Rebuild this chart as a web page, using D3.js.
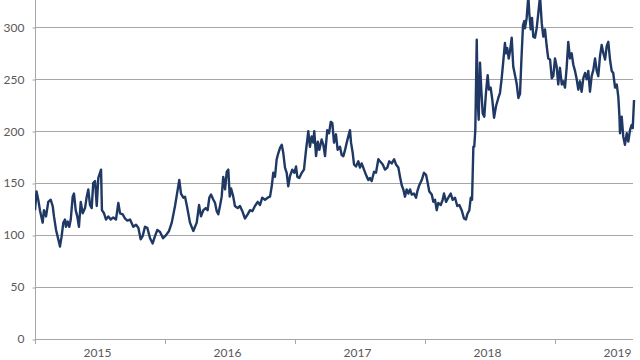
<!DOCTYPE html>
<html>
<head>
<meta charset="utf-8">
<script src="https://cdn.jsdelivr.net/npm/d3@7"></script>
<style>
  html, body { margin: 0; padding: 0; background: #ffffff; }
  svg { display: block; }
</style>
</head>
<body>
<svg id="chart" width="640" height="360"></svg>
<script>
// ---- data ----
const startYear = 2015;
// time in years since 1 Jan 2015
const yearsSinceStart = [
  0.000,0.012,0.025,0.038,0.059,0.069,0.085,0.102,0.121,0.136,0.146,0.162,0.179,0.192,0.205,0.218,0.231,0.238,0.252,0.264,
  0.275,0.290,0.300,0.313,0.325,0.338,0.352,0.367,0.385,0.398,0.410,0.423,0.436,0.448,0.462,0.475,0.487,0.500,0.508,0.515,
  0.531,0.546,0.564,0.582,0.602,0.623,0.641,0.654,0.675,0.692,0.710,0.731,0.756,0.777,0.795,0.813,0.828,0.846,0.864,0.885,
  0.905,0.923,0.941,0.962,0.985,1.008,1.031,1.052,1.077,1.098,1.110,1.123,1.141,1.154,1.167,1.179,1.192,1.218,1.244,1.262,
  1.277,1.295,1.313,1.328,1.341,1.354,1.372,1.385,1.398,1.410,1.423,1.436,1.448,1.462,1.475,1.487,1.498,1.508,1.525,1.538,
  1.559,1.577,1.595,1.615,1.636,1.654,1.672,1.692,1.713,1.731,1.748,1.769,1.790,1.808,1.821,1.833,1.846,1.859,1.872,1.885,
  1.898,1.910,1.923,1.936,1.948,1.962,1.979,1.995,2.008,2.018,2.033,2.052,2.069,2.085,2.095,2.102,2.115,2.128,2.141,2.148,
  2.162,2.175,2.187,2.205,2.218,2.231,2.248,2.262,2.275,2.287,2.300,2.315,2.328,2.346,2.359,2.372,2.385,2.398,2.410,2.423,
  2.431,2.444,2.454,2.469,2.487,2.500,2.513,2.531,2.546,2.564,2.577,2.590,2.608,2.623,2.641,2.654,2.675,2.692,2.710,2.725,
  2.744,2.762,2.777,2.795,2.808,2.821,2.833,2.846,2.859,2.872,2.885,2.898,2.915,2.931,2.941,2.956,2.975,2.992,3.008,3.018,
  3.033,3.052,3.064,3.077,3.090,3.102,3.121,3.136,3.146,3.162,3.179,3.198,3.213,3.231,3.248,3.264,3.282,3.300,3.315,3.325,
  3.341,3.352,3.362,3.372,3.379,3.387,3.398,3.405,3.413,3.423,3.433,3.444,3.456,3.469,3.482,3.492,3.505,3.518,3.531,3.546,
  3.564,3.577,3.590,3.602,3.615,3.623,3.633,3.644,3.654,3.667,3.679,3.692,3.705,3.718,3.731,3.742,3.754,3.764,3.769,3.782,
  3.795,3.802,3.813,3.823,3.833,3.846,3.859,3.872,3.885,3.898,3.910,3.923,3.936,3.948,3.962,3.975,3.987,4.000,4.013,4.025,
  4.038,4.052,4.064,4.077,4.090,4.102,4.115,4.128,4.141,4.154,4.167,4.179,4.192,4.205,4.218,4.231,4.244,4.256,4.269,4.282,
  4.295,4.308,4.321,4.333,4.346,4.359,4.372,4.385,4.398,4.410,4.423,4.436,4.448,4.462,4.475,4.487,4.495,4.500,4.513,4.525,
  4.538,4.552,4.564,4.577,4.590,4.598,4.608
];
const values = [
  124,142,134,124,112,124,118,132,134,128,118,105,96,89,99,112,115,108,113,108,
  115,137,140,124,118,108,132,121,126,137,144,129,126,150,152,128,155,160,163,124,
  121,115,118,115,117,115,131,121,120,116,114,115,108,110,107,96,99,108,107,97,
  92,99,105,103,97,100,104,112,128,144,153,140,136,137,129,121,112,104,112,129,
  118,124,126,124,136,139,134,131,123,120,128,137,156,144,161,163,137,145,137,128,
  126,128,123,116,120,124,123,128,132,129,136,134,136,137,147,160,156,173,179,184,
  187,179,165,160,147,157,163,160,166,156,155,160,163,182,192,200,185,195,189,200,
  176,190,182,192,187,176,201,198,209,208,189,197,182,185,177,176,182,189,195,201,
  189,179,168,166,171,165,169,163,158,153,155,152,161,160,173,171,168,163,165,171,
  169,173,168,165,156,148,144,137,144,140,144,139,140,136,142,148,153,160,158,152,
  142,139,132,134,124,131,129,134,140,132,136,140,134,136,128,129,124,116,115,120,
  124,136,134,185,185,201,288,230,211,266,240,217,214,237,254,240,242,230,213,224,
  232,237,251,267,285,275,280,270,277,290,262,254,246,232,236,270,302,306,299,309,
  330,314,298,309,291,290,299,314,330,304,291,298,282,270,269,251,253,270,262,245,
  261,245,248,242,262,286,270,275,264,258,250,240,248,238,251,256,250,258,238,253,
  259,270,258,253,272,283,275,269,282,286,269,258,256,242,245,233,216,198,214,195,
  187,198,190,201,206,203,230
];
const yTicks = [0, 50, 100, 150, 200, 250, 300];
const yearLabels = [2015, 2016, 2017, 2018, 2019];

// ---- layout ----
const W = 640, H = 360;
const plotLeft = 35, plotRight = 633, plotBottom = 339, plotTop = 0;
const svg = d3.select("#chart");

const x = d3.scaleLinear().domain([startYear, startYear + 5]).range([plotLeft, plotLeft + 650]);
const y = d3.scaleLinear().domain([0, 300]).range([plotBottom, 27.3]);

const data = yearsSinceStart.map((t, i) => ({ t: startYear + t, v: values[i] }));

const font = "Lato, 'Open Sans', 'DejaVu Sans', sans-serif";
const textColor = "#595959";
const gridColor = "#a6a6a6";

// gridlines
svg.append("g")
  .selectAll("line")
  .data(yTicks.filter(d => d > 0))
  .join("line")
  .attr("x1", plotLeft).attr("x2", plotRight)
  .attr("y1", d => Math.round(y(d)) + 0.5)
  .attr("y2", d => Math.round(y(d)) + 0.5)
  .attr("stroke", gridColor)
  .attr("stroke-width", 1);

// y axis
const yAxis = d3.axisLeft(y).tickValues(yTicks).tickSize(3).tickPadding(8).tickFormat(d3.format("d"));
const gy = svg.append("g")
  .attr("transform", `translate(${plotLeft + 0.5},0)`)
  .call(yAxis);
gy.select(".domain").remove();
gy.selectAll(".tick line").attr("stroke", gridColor)
  .attr("transform", d => `translate(0,${Math.round(y(d)) + 0.5 - y(d)})`);
gy.selectAll(".tick text")
  .attr("fill", textColor)
  .style("font-family", font)
  .style("font-size", "12px");
svg.append("line")
  .attr("x1", plotLeft + 0.5).attr("x2", plotLeft + 0.5)
  .attr("y1", plotTop).attr("y2", plotBottom + 0.5)
  .attr("stroke", gridColor);

// x axis
svg.append("line")
  .attr("x1", plotLeft).attr("x2", plotRight)
  .attr("y1", plotBottom + 0.5).attr("y2", plotBottom + 0.5)
  .attr("stroke", gridColor);
svg.append("g")
  .selectAll("line")
  .data(yearLabels)
  .join("line")
  .attr("x1", d => Math.round(x(d)) + 0.5)
  .attr("x2", d => Math.round(x(d)) + 0.5)
  .attr("y1", plotBottom).attr("y2", plotBottom + 5)
  .attr("stroke", gridColor);
svg.append("g")
  .selectAll("text")
  .data(yearLabels)
  .join("text")
  .attr("x", d => x(d + 0.5) - 2.5)
  .attr("y", 357)
  .attr("text-anchor", "middle")
  .attr("fill", textColor)
  .style("font-family", font)
  .style("font-size", "12px")
  .text(d => d);

// clip
svg.append("clipPath").attr("id", "plotclip")
  .append("rect").attr("x", plotLeft).attr("y", 0).attr("width", W - plotLeft).attr("height", plotBottom);

// line
const line = d3.line().x(d => x(d.t)).y(d => y(d.v));
svg.append("path")
  .datum(data)
  .attr("clip-path", "url(#plotclip)")
  .attr("fill", "none")
  .attr("stroke", "#1f3864")
  .attr("stroke-width", 2.4)
  .attr("stroke-linejoin", "round")
  .attr("d", line);
</script>
</body>
</html>
